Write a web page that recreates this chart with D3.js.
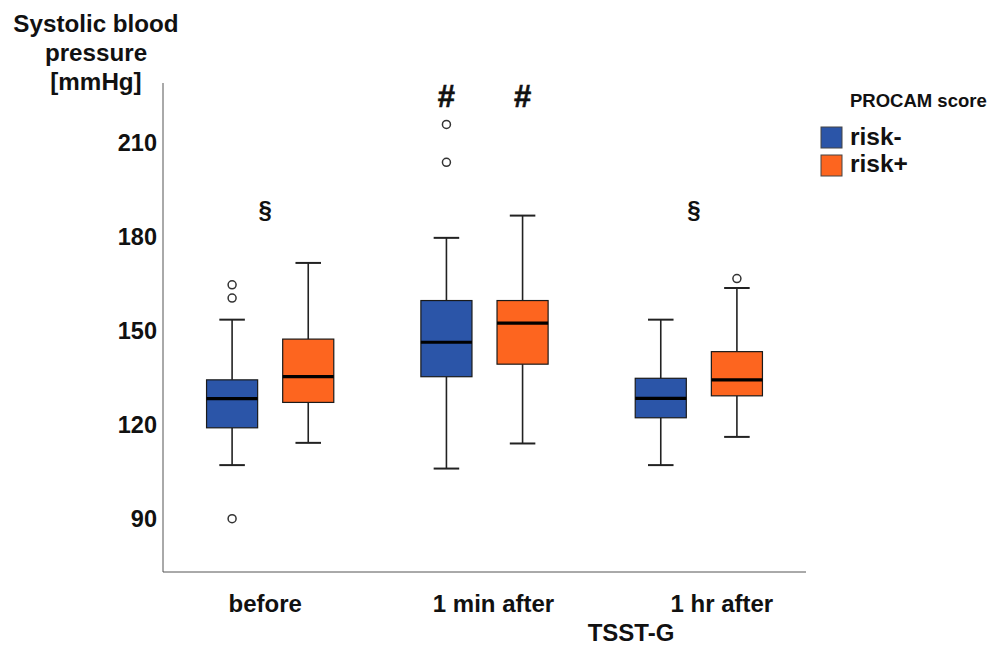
<!DOCTYPE html>
<html>
<head>
<meta charset="utf-8">
<script src="https://cdn.jsdelivr.net/npm/d3@7"></script>
<style>
  html, body { margin: 0; padding: 0; background: #fff; }
  svg { display: block; font-family: "Liberation Sans", Arial, sans-serif; }
</style>
</head>
<body>
<svg id="chart" width="992" height="648"></svg>
<script>
// Time points of the TSST-G and PROCAM risk groups
const categories = ["before", "1 min after", "1 hr after"];
const series = ["risk-", "risk+"];
const yTicks = [90, 120, 150, 180, 210];

// Box-plot summaries per group, one value per time point
const riskMinusQ1     = [119, 135.3, 122.2];
const riskMinusMedian = [128.3, 146.3, 128.4];
const riskMinusQ3     = [134.3, 159.6, 134.8];
const riskMinusLow    = [107.1, 106, 107.1];
const riskMinusHigh   = [153.5, 179.6, 153.5];
const riskMinusOutliers = [[164.6, 160.4, 90], [215.8, 203.7], []];

const riskPlusQ1     = [127.1, 139.3, 129.2];
const riskPlusMedian = [135.3, 152.4, 134.3];
const riskPlusQ3     = [147.3, 159.6, 143.3];
const riskPlusLow    = [114.2, 114, 116.1];
const riskPlusHigh   = [171.6, 186.7, 163.6];
const riskPlusOutliers = [[], [], [166.6]];

// Significance markers: "#" above each box, "§" above the group
const hashMarks = [[], ["risk-", "risk+"], []];
const sectionMarks = [true, false, true];

const colors = { "risk-": "#2b55a8", "risk+": "#fd651f" };

const boxes = [];
categories.forEach((c, i) => {
  boxes.push({ cat: c, ser: "risk-", q1: riskMinusQ1[i], med: riskMinusMedian[i], q3: riskMinusQ3[i],
               lo: riskMinusLow[i], hi: riskMinusHigh[i], out: riskMinusOutliers[i] });
  boxes.push({ cat: c, ser: "risk+", q1: riskPlusQ1[i], med: riskPlusMedian[i], q3: riskPlusQ3[i],
               lo: riskPlusLow[i], hi: riskPlusHigh[i], out: riskPlusOutliers[i] });
});

const svg = d3.select("#chart");
const plotLeft = 163, plotRight = 806, plotTop = 83, plotBottom = 572;

const x = d3.scaleBand().domain(categories).range([plotLeft, plotRight]).padding(0);
const xs = d3.scaleBand().domain(series).range([0, x.bandwidth()])
  .paddingInner(0.329).paddingOuter(0.572);
const y = d3.scaleLinear().domain([73, 229]).range([plotBottom, plotTop]);

const axisColor = "#555";

// Y axis: line with bold labels, no tick marks
const yAxis = svg.append("g")
  .attr("transform", `translate(${plotLeft},0)`)
  .call(d3.axisLeft(y).tickValues(yTicks).tickSize(0).tickPadding(6));
yAxis.select(".domain").attr("stroke", axisColor).attr("d", `M0,${plotTop}V${plotBottom}`);
yAxis.selectAll("text")
  .attr("font-size", 23.5).attr("font-weight", "bold").attr("fill", "#111")
  .attr("font-family", "Liberation Sans, Arial, sans-serif");

// X axis: line with category labels beneath
const labelShift = { "before": -5, "1 min after": 9, "1 hr after": 23 };
const xAxis = svg.append("g")
  .attr("transform", `translate(0,${plotBottom})`)
  .call(d3.axisBottom(x).tickSize(0).tickPadding(23));
xAxis.select(".domain").attr("stroke", axisColor).attr("d", `M${plotLeft},0H${plotRight}`);
xAxis.selectAll("text")
  .attr("font-size", 24).attr("font-weight", "bold").attr("fill", "#111")
  .attr("font-family", "Liberation Sans, Arial, sans-serif")
  .attr("dx", d => labelShift[d]);

// Axis titles
const yTitle = svg.append("text")
  .attr("text-anchor", "middle").attr("font-size", 24.2).attr("font-weight", "bold").attr("fill", "#111");
["Systolic blood", "pressure", "[mmHg]"].forEach((t, i) => {
  yTitle.append("tspan").attr("x", 96).attr("y", 32 + i * 29).text(t);
});
svg.append("text")
  .attr("x", 631).attr("y", 641).attr("text-anchor", "middle")
  .attr("font-size", 24).attr("font-weight", "bold").attr("fill", "#111")
  .text("TSST-G");

// Box plots
const boxW = xs.bandwidth();
const capW = boxW / 2;
const g = svg.append("g");
const bx = g.selectAll("g.box").data(boxes).join("g")
  .attr("class", "box")
  .attr("transform", d => `translate(${x(d.cat) + xs(d.ser) + boxW / 2},0)`);

// whiskers
bx.append("line").attr("x1", 0).attr("x2", 0)
  .attr("y1", d => y(d.hi)).attr("y2", d => y(d.q3))
  .attr("stroke", "#222").attr("stroke-width", 1.6);
bx.append("line").attr("x1", 0).attr("x2", 0)
  .attr("y1", d => y(d.q1)).attr("y2", d => y(d.lo))
  .attr("stroke", "#222").attr("stroke-width", 1.6);
bx.append("line").attr("x1", -capW / 2).attr("x2", capW / 2)
  .attr("y1", d => y(d.hi)).attr("y2", d => y(d.hi))
  .attr("stroke", "#222").attr("stroke-width", 2);
bx.append("line").attr("x1", -capW / 2).attr("x2", capW / 2)
  .attr("y1", d => y(d.lo)).attr("y2", d => y(d.lo))
  .attr("stroke", "#222").attr("stroke-width", 2);

// boxes
bx.append("rect")
  .attr("x", -boxW / 2).attr("width", boxW)
  .attr("y", d => y(d.q3)).attr("height", d => y(d.q1) - y(d.q3))
  .attr("fill", d => colors[d.ser]).attr("stroke", "#1a1a1a").attr("stroke-width", 1.2);

// medians
bx.append("line").attr("x1", -boxW / 2).attr("x2", boxW / 2)
  .attr("y1", d => y(d.med)).attr("y2", d => y(d.med))
  .attr("stroke", "#000").attr("stroke-width", 3.2);

// outliers
bx.selectAll("circle").data(d => d.out).join("circle")
  .attr("cx", 0).attr("cy", v => y(v)).attr("r", 4)
  .attr("fill", "#fff").attr("stroke", "#333").attr("stroke-width", 1.5);

// Significance markers
categories.forEach((c, i) => {
  hashMarks[i].forEach(s => {
    svg.append("text")
      .attr("x", x(c) + xs(s) + boxW / 2).attr("y", 107)
      .attr("text-anchor", "middle").attr("font-size", 31).attr("font-weight", "bold")
      .attr("fill", "#111").attr("stroke", "#111").attr("stroke-width", 0.6)
      .text("#");
  });
  if (sectionMarks[i]) {
    svg.append("text")
      .attr("x", x(c) + x.bandwidth() / 2 - 5).attr("y", 218)
      .attr("text-anchor", "middle").attr("font-size", 24).attr("font-weight", "bold")
      .attr("fill", "#111").text("§");
  }
});

// Legend
const legend = svg.append("g");
legend.append("text")
  .attr("x", 850).attr("y", 107)
  .attr("font-size", 18.5).attr("font-weight", "bold").attr("fill", "#111")
  .text("PROCAM score");
series.forEach((s, i) => {
  legend.append("rect")
    .attr("x", 821).attr("y", 127 + i * 28).attr("width", 21).attr("height", 21)
    .attr("fill", colors[s]).attr("stroke", "#444").attr("stroke-width", 1);
  legend.append("text")
    .attr("x", 850).attr("y", 145 + i * 27)
    .attr("font-size", 24.5).attr("font-weight", "bold").attr("fill", "#111")
    .text(s);
});
</script>
</body>
</html>
